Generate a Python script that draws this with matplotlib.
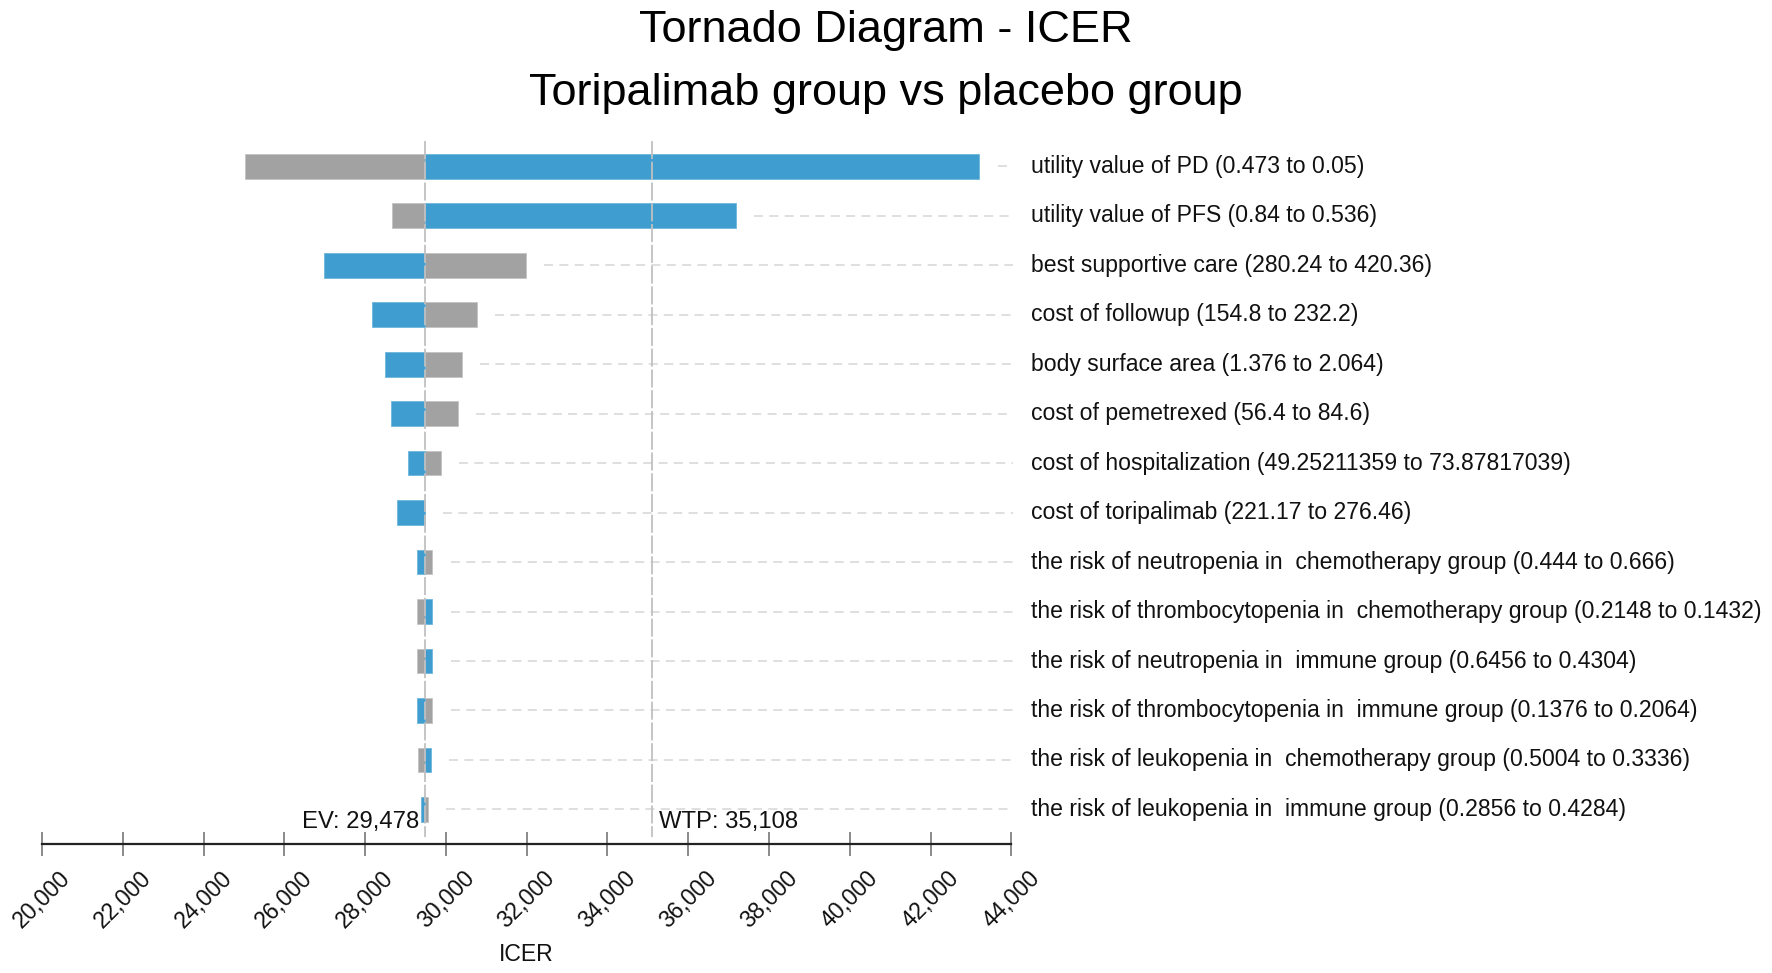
import matplotlib
matplotlib.use("Agg")
import matplotlib.pyplot as plt
from matplotlib.ticker import FuncFormatter, MultipleLocator

plt.rcParams['font.family'] = ['Liberation Sans', 'DejaVu Sans']

# data
labels = [
    "utility value of PD (0.473 to 0.05)",
    "utility value of PFS (0.84 to 0.536)",
    "best supportive care (280.24 to 420.36)",
    "cost of followup (154.8 to 232.2)",
    "body surface area (1.376 to 2.064)",
    "cost of pemetrexed (56.4 to 84.6)",
    "cost of hospitalization (49.25211359 to 73.87817039)",
    "cost of toripalimab (221.17 to 276.46)",
    "the risk of neutropenia in  chemotherapy group (0.444 to 0.666)",
    "the risk of thrombocytopenia in  chemotherapy group (0.2148 to 0.1432)",
    "the risk of neutropenia in  immune group (0.6456 to 0.4304)",
    "the risk of thrombocytopenia in  immune group (0.1376 to 0.2064)",
    "the risk of leukopenia in  chemotherapy group (0.5004 to 0.3336)",
    "the risk of leukopenia in  immune group (0.2856 to 0.4284)",
]
blue_end = [43210, 37180, 26980, 28170, 28500, 28640, 29060, 28790,
            29280, 29665, 29665, 29280, 29620, 29390]
gray_end = [25020, 28670, 31990, 30770, 30390, 30300, 29880, 29478,
            29665, 29280, 29280, 29665, 29320, 29560]
ev = 29478
wtp = 35108

BLUE = "#3f9ecf"
GRAY = "#a2a2a2"


def plot_tornado():
    fig = plt.figure(figsize=(17.72, 9.73), dpi=100)
    ax = fig.add_axes([0.0237, 0.133, 0.547, 0.7216])

    rows = list(range(len(labels)))
    for i in rows:
        b, g = blue_end[i], gray_end[i]
        ax.barh(i, g - ev, left=ev, height=0.5, color=GRAY,
                edgecolor="#c4c4c4", linewidth=0.6, zorder=2)
        ax.barh(i, b - ev, left=ev, height=0.5, color=BLUE,
                edgecolor="#6db6dc", linewidth=0.6, zorder=3)
        start = max(b, g) + 450
        ax.plot([start, 44050], [i, i], color="#dcdcdc", lw=1.3,
                ls=(0, (5, 3.5)), zorder=1, clip_on=False)
        ax.text(1.0205, i, labels[i], transform=ax.get_yaxis_transform(),
                ha="left", va="center", fontsize=16.6, color="#111111")

    ax.plot([ev, ev], [-0.5, 13.55], color="#c0c0c0", lw=1.3,
            ls=(0, (10, 1.5)), zorder=4)
    ax.plot([wtp, wtp], [-0.5, 13.55], color="#c0c0c0", lw=1.3,
            ls=(0, (10, 1.5)), zorder=4)
    ax.text(ev - 130, 13.25, "EV: 29,478", ha="right", va="center",
            fontsize=17.2, color="#111111")
    ax.text(wtp + 160, 13.25, "WTP: 35,108", ha="left", va="center",
            fontsize=17.2, color="#111111")

    ax.set_xlim(20000, 44000)
    ax.set_ylim(13.69, -0.5)
    for s in ["top", "left", "right"]:
        ax.spines[s].set_visible(False)
    ax.spines["bottom"].set_linewidth(1.6)
    ax.spines["bottom"].set_color("#222222")
    ax.set_yticks([])
    ax.xaxis.set_major_locator(MultipleLocator(2000))
    ax.xaxis.set_major_formatter(FuncFormatter(lambda v, p: f"{v:,.0f}"))
    ax.tick_params(axis="x", direction="inout", length=17, width=1.2,
                   color="#777777", pad=8, labelsize=16.6, labelcolor="#111111")
    plt.setp(ax.get_xticklabels(), rotation=45, ha="center")
    ax.set_xlabel("ICER", fontsize=16.6, color="#111111", labelpad=8)

    fig.text(0.5, 0.957, "Tornado Diagram - ICER", ha="center",
             va="baseline", fontsize=32.5)
    fig.text(0.5, 0.892, "Toripalimab group vs placebo group", ha="center",
             va="baseline", fontsize=32.5)

    fig.savefig("out.png", dpi=100)


if __name__ == '__main__':
    plot_tornado()
